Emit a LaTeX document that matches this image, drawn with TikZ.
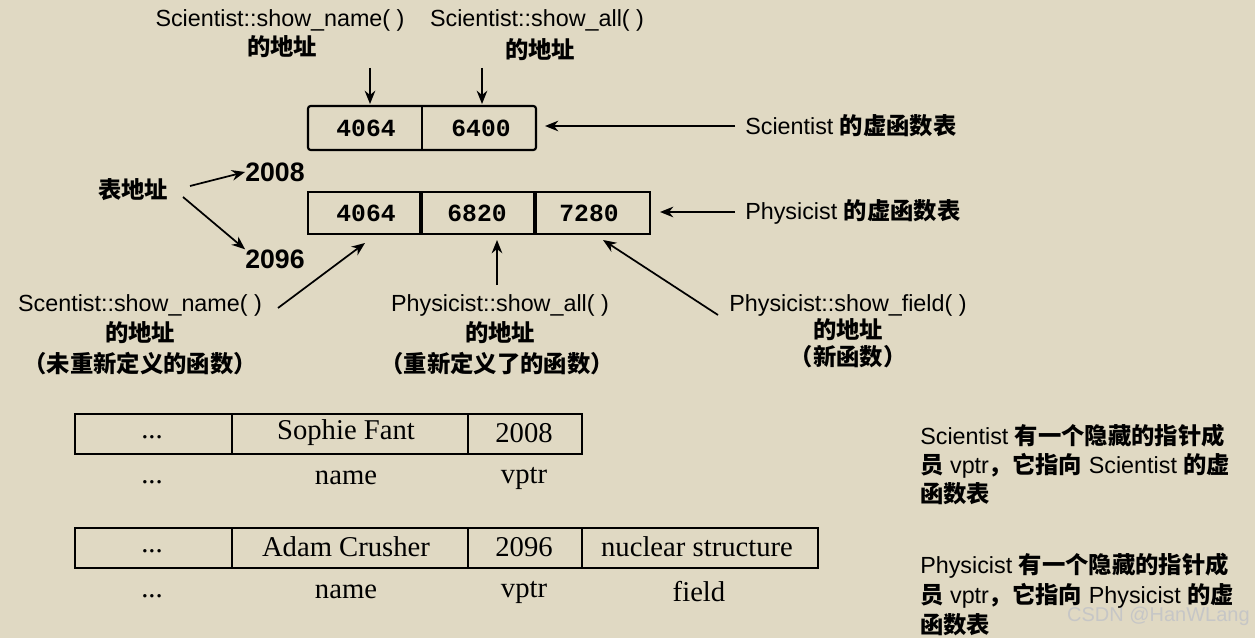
\documentclass[tikz,border=0pt]{standalone}
\usepackage{fontspec}
\setmainfont{Liberation Sans}
\newfontfamily\cjk{Noto Sans CJK SC}
\newfontfamily\mono{Liberation Mono}
\newfontfamily\ser{Liberation Serif}
\usetikzlibrary{arrows.meta}
\definecolor{bg}{HTML}{E0D9C3}
\begin{document}
\begin{tikzpicture}[x=0.75pt,y=-0.75pt,
  lab/.style={font=\fontsize{17.5}{20}\selectfont,inner sep=0pt},
  num/.style={font=\mono\bfseries\fontsize{18.5}{20}\selectfont,inner sep=0pt},
  cell/.style={draw,line width=1.6pt},
  tcell/.style={draw,line width=1.3pt},
  tt/.style={font=\ser\fontsize{21.5}{24}\selectfont,inner sep=0pt},
  arr/.style={-{Stealth[length=10pt,width=8pt]},line width=1.3pt}]
\fill[bg] (0,0) rectangle (1255,638);
\useasboundingbox (0,0) rectangle (1255,638);
\node[lab,anchor=east,text=white!55!gray,font=\fontsize{15}{17}\selectfont] (wm) at (1250,616) {CSDN @HanWLang};
% top labels
\node[lab] (sn) at (280,20) {Scientist::show\_name( )};
\node[lab] (sn2) at (282,47) {\cjk\bfseries 的地址};
\node[lab] (sa) at (537,20) {Scientist::show\_all( )};
\node[lab] (sa2) at (540,50) {\cjk\bfseries 的地址};
% scientist table
\draw[cell,rounded corners=2pt] (308,106) rectangle (536,150);
\draw[cell] (422,106) -- (422,150);
\node[num] (s1) at (366,128) {4064};
\node[num] (s2) at (481,128) {6400};
\coordinate (s1t) at (370,104);
\coordinate (s2t) at (482,104);
\coordinate (a1) at (370,68);
\coordinate (a2) at (482,68);
\draw[arr] (a1) -- (s1t);
\draw[arr] (a2) -- (s2t);
\node[lab,anchor=west] (slab) at (745,126) {Scientist {\cjk\bfseries 的虚函数表}};
\coordinate (sT) at (545,126);
\draw[arr] (735,126) coordinate (sa0) -- (sT);
% physicist table
\foreach \a/\b in {308/420,422/534,536/650}{
  \draw[cell] (\a,192) rectangle (\b,234);}
\node[num] (p1) at (366,213) {4064};
\node[num] (p2) at (477,213) {6820};
\node[num] (p3) at (589,213) {7280};
\node[lab,anchor=west] (plab) at (745,212) {Physicist {\cjk\bfseries 的虚函数表}};
\coordinate (pT) at (660,212);
\draw[arr] (735,212) coordinate (pa0) -- (pT);
% table address
\node[lab] (ta) at (133,190) {\cjk\bfseries 表地址};
\node[num,font=\bfseries\fontsize{20}{22}\selectfont] (n1) at (275,172) {2008};
\node[num,font=\bfseries\fontsize{20}{22}\selectfont] (n2) at (275,259) {2096};
\draw[arr] (190,186) -- (n1.west);
\draw[arr] (183,197) -- (n2.north west);
% lower labels
\node[lab] (l1) at (140,305) {Scentist::show\_name( )};
\node[lab] (l1b) at (140,333) {\cjk\bfseries 的地址};
\node[lab] (l1c) at (140,364) {\cjk\bfseries （未重新定义的函数）};
\node[lab] (l2) at (500,305) {Physicist::show\_all( )};
\node[lab] (l2b) at (500,333) {\cjk\bfseries 的地址};
\node[lab] (l2c) at (497,364) {\cjk\bfseries （重新定义了的函数）};
\node[lab] (l3) at (848,305) {Physicist::show\_field( )};
\node[lab] (l3b) at (848,330) {\cjk\bfseries 的地址};
\node[lab] (l3c) at (848,357) {\cjk\bfseries （新函数）};
\draw[arr] (278,308) coordinate (b1) -- (365,243) coordinate (b1e);
\draw[arr] (497,285) coordinate (b2) -- (497,240) coordinate (b2e);
\draw[arr] (718,315) coordinate (b3) -- (603,240) coordinate (b3e);
% object tables
\foreach \a/\b in {75/232,232/468,468/582}{
  \draw[tcell] (\a,414) rectangle (\b,454);}
\node[tt] (o1) at (152,437) {...};
\node[tt] (o2) at (346,433) {Sophie Fant};
\node[tt] (o3) at (524,433) {2008};
\node[tt] (q1) at (152,482) {...};
\node[tt] (q2) at (346,478) {name};
\node[tt] (q3) at (524,478) {vptr};
\foreach \a/\b in {75/232,232/468,468/582,582/818}{
  \draw[tcell] (\a,528) rectangle (\b,568);}
\node[tt] (r1) at (152,551) {...};
\node[tt] (r2) at (346,547) {Adam Crusher};
\node[tt] (r3) at (524,547) {2096};
\node[tt] (r4) at (697,547) {nuclear structure};
\node[tt] (t1) at (152,596) {...};
\node[tt] (t2) at (346,592) {name};
\node[tt] (t3) at (524,592) {vptr};
\node[tt] (t4) at (699,592) {field};
% right notes
\node[lab,anchor=west] (c1) at (920,436) {Scientist {\cjk\bfseries 有一个隐藏的指针成}};
\node[lab,anchor=west] (c2) at (920,466) {{\cjk\bfseries 员} vptr{\cjk\bfseries ，它指向} Scientist {\cjk\bfseries 的虚}};
\node[lab,anchor=west] (c3) at (920,494) {\cjk\bfseries 函数表};
\node[lab,anchor=west] (d1) at (920,566) {Physicist {\cjk\bfseries 有一个隐藏的指针成}};
\node[lab,anchor=west] (d2) at (920,596) {{\cjk\bfseries 员} vptr{\cjk\bfseries ，它指向} Physicist {\cjk\bfseries 的虚}};
\node[lab,anchor=west] (d3) at (920,625) {\cjk\bfseries 函数表};
\end{tikzpicture}
\end{document}
